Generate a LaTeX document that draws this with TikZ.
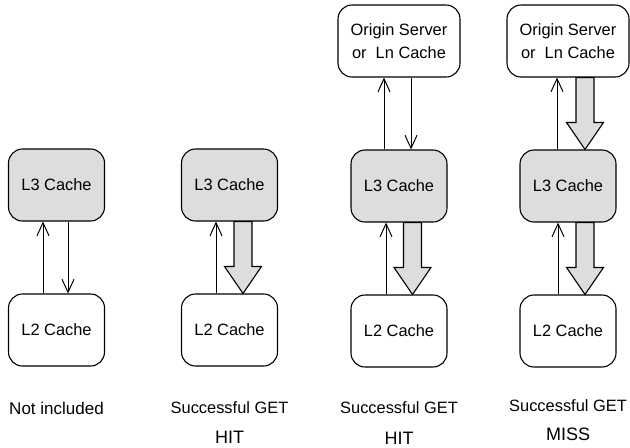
\documentclass[tikz,border=0pt]{standalone}
\usepackage{fontspec}
\setmainfont{Liberation Sans}
\usetikzlibrary{arrows.meta,calc}
\definecolor{cachegray}{RGB}{221,221,221}
\tikzset{
    cache/.style = {rectangle, rounded corners=7pt, minimum width=48pt, minimum height=36pt, text centered, draw=black, line width=0.55pt, fill=white, font=\fontsize{8.2}{10}\selectfont},
    l3/.style = {cache, fill=cachegray},
    l2/.style = {cache},
    origin/.style = {cache, minimum width=61pt, align=center, font=\fontsize{8.2}{11.5}\selectfont},
    caption/.style = {font=\fontsize{8.2}{10}\selectfont},
    result/.style = {font=\fontsize{9}{11}\selectfont},
    arrow/.style = {line width=0.5pt, -{Straight Barb[length=6.5pt,width=6pt]}},
    fat/.style = {draw=black, line width=0.55pt, fill=cachegray, line join=miter}
}
\newcommand{\fatarrow}[3]{%
    \path ([xshift=#3]#1.south) coordinate (fatop) (fatop |- #2.north) coordinate (fatip);
    \draw [fat] ($(fatop)+(-4.5pt,0)$) -- ($(fatip)+(-4.5pt,13.5pt)$) -- ($(fatip)+(-9.25pt,13.5pt)$) -- (fatip)
        -- ($(fatip)+(9.25pt,13.5pt)$) -- ($(fatip)+(4.5pt,13.5pt)$) -- ($(fatop)+(4.5pt,0)$) -- cycle;
}
\begin{document}
\begin{tikzpicture}[x=0.5pt, y=-0.5pt, node distance=72.5pt]
\useasboundingbox (0,0) rectangle (630,447);
\node (l3a) [l3] at (56.5,185) {L3 Cache};
\node (l2a) [l2, below of=l3a] {L2 Cache};
\node (l3b) [l3] at (229.5,185) {L3 Cache};
\node (l2b) [l2, below of=l3b] {L2 Cache};
\node (l3c) [l3] at (399,186) {L3 Cache};
\node (orgc) [origin, above of=l3c] {Origin Server\\or\ \ Ln Cache};
\node (l2c) [l2, below of=l3c] {L2 Cache};
\node (l3d) [l3] at (568,186) {L3 Cache};
\node (orgd) [origin, above of=l3d] {Origin Server\\or\ \ Ln Cache};
\node (l2d) [l2, below of=l3d] {L2 Cache};

\node (capa) [result, font=\fontsize{8.5}{10}\selectfont, below of=l2a, node distance=39pt] {Not included};
\node (capb) [caption, below of=l2b, node distance=39pt] {Successful GET};
\node (hitb) [result, below of=capb, node distance=14.5pt] {HIT};
\node (capc) [caption, below of=l2c, node distance=38.5pt] {Successful GET};
\node (hitc) [result, below of=capc, node distance=15pt] {HIT};
\node (capd) [caption, below of=l2d, node distance=37.5pt] {Successful GET};
\node (missd) [result, below of=capd, node distance=14pt] {MISS};

\draw [arrow] ([xshift=-6.75pt]l2a.north) -- ([xshift=-6.75pt]l3a.south);
\draw [arrow] ([xshift=5.75pt]l3a.south) -- ([xshift=5.75pt]l2a.north);
\draw [arrow] ([xshift=-6.75pt]l2b.north) -- ([xshift=-6.75pt]l3b.south);
\fatarrow{l3b}{l2b}{6.75pt}
\draw [arrow] ([xshift=-7.5pt]l3c.north) -- ([xshift=-7.5pt]orgc.south);
\draw [arrow] ([xshift=6pt]orgc.south) -- ([xshift=6pt]l3c.north);
\draw [arrow] ([xshift=-6.5pt]l2c.north) -- ([xshift=-6.5pt]l3c.south);
\fatarrow{l3c}{l2c}{6.75pt}
\draw [arrow] ([xshift=-5.5pt]l3d.north) -- ([xshift=-5.5pt]orgd.south);
\fatarrow{orgd}{l3d}{8.5pt}
\draw [arrow] ([xshift=-5pt]l2d.north) -- ([xshift=-5pt]l3d.south);
\fatarrow{l3d}{l2d}{8.5pt}
\end{tikzpicture}
\end{document}
